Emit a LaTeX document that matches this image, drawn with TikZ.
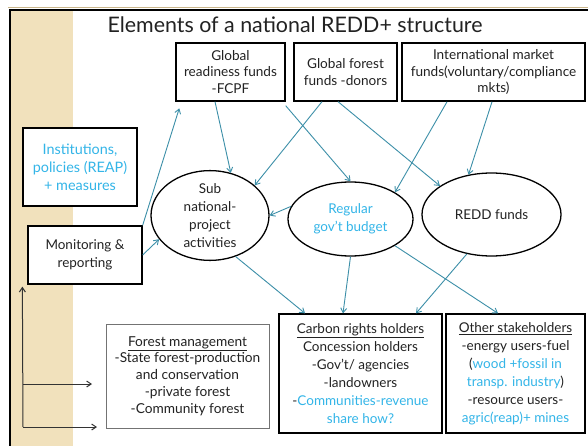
\documentclass[tikz,border=0pt]{standalone}
\usepackage{fontspec}
\setmainfont{Lato}
\usetikzlibrary{arrows.meta,shapes.geometric}
\definecolor{beige}{HTML}{F1E1BC}
\definecolor{tanline}{HTML}{C9B58A}
\definecolor{skyblue}{HTML}{33B5E8}
\definecolor{teal}{HTML}{3C8FA8}
\definecolor{ink}{HTML}{222222}
\begin{document}
\begin{tikzpicture}[x=1pt,y=-1pt,
  every node/.style={text=ink,align=center,inner sep=0pt},
  txt/.style={font=\fontsize{13.6}{16.5}\selectfont},
  bigtxt/.style={font=\fontsize{13.5}{17.8}\selectfont},
  box/.style={draw=black,fill=white,line width=1.3pt,rectangle},
  thinbox/.style={draw=black!55,fill=white,line width=0.8pt,rectangle},
  oval/.style={draw=black,fill=white,line width=1.3pt,ellipse},
  flow/.style={draw=teal,line width=0.9pt,-{Straight Barb[length=4.5pt,width=6pt]}},
  feed/.style={draw=black!80,line width=1pt,-{Straight Barb[length=4.5pt,width=6pt]}}]
\useasboundingbox (0,0) rectangle (588,446);
% slide background and frame
\fill[white] (0,0) rectangle (588,446);
\fill[beige] (10,10) rectangle (73,446);
\draw[tanline,line width=0.8pt] (8,7.5) -- (588,7.5);
\draw[black,line width=2pt] (9,10.5) -- (588,10.5);
\draw[black,line width=2.4pt] (10,10) -- (10,446);
% title
\node[font=\fontsize{21.4}{24}\selectfont,anchor=base] (title) at (295,33) {Elements of a national REDD+ structure};
% funding sources
\node[box,txt,minimum width=109,minimum height=58] (grf) at (230.5,72) {Global\\readiness funds\\-FCPF};
\node[box,txt,minimum width=103,minimum height=58] (gff) at (345.5,72) {Global forest\\funds -donors};
\node[box,txt,line width=1.6pt,minimum width=183,minimum height=58] (imf) at (493.5,72) {International market\\funds(voluntary/compliance\\mkts)};
% left column
\node[box,font=\fontsize{14.4}{17.8}\selectfont,minimum width=114,minimum height=78,text=skyblue] (inst) at (80,167) {Institutions,\\policies (REAP)\\+ measures};
\node[box,bigtxt,minimum width=114,minimum height=58] (mon) at (85,255) {Monitoring \&\\reporting};
% channels
\node[oval,bigtxt,minimum width=118,minimum height=79] (sub) at (210,215.5) {Sub\\national-\\project\\activities};
\node[oval,bigtxt,minimum width=125,minimum height=74,text=skyblue] (reg) at (350.5,219) {Regular\\gov't budget};
\node[oval,bigtxt,minimum width=139,minimum height=83] (redd) at (491.5,214.5) {REDD funds};
% recipients
\node[thinbox,font=\fontsize{13.7}{16.8}\selectfont,minimum width=163,minimum height=104] (fm) at (187.5,376)
  {\underline{Forest management}\\-State forest-production\\and conservation\\-private forest\\-Community forest};
\node[box,font=\fontsize{13.5}{18}\selectfont,minimum width=163,minimum height=119] (crh) at (360.5,373.5)
  {\underline{Carbon rights holders}\\Concession holders\\-Gov't/ agencies\\-landowners\\-\textcolor{skyblue}{Communities-revenue}\\\textcolor{skyblue}{share how?}};
\node[box,font=\fontsize{13.5}{18}\selectfont,minimum width=139,minimum height=119] (oth) at (515.5,373.5)
  {\underline{Other stakeholders}\\-energy users-fuel\\(\textcolor{skyblue}{wood +fossil in}\\\textcolor{skyblue}{transp. industry})\\-resource users-\\\textcolor{skyblue}{agric(reap)+ mines}};
% money flows
\draw[flow] ([xshift=-15.5]grf.south) -- (sub.64);
\draw[flow] ([xshift=-23.5]gff.south) -- (sub.34);
\draw[flow] ([yshift=-4]grf.south east) -- (reg.north);
\draw[flow] ([xshift=-7.5]gff.south) -- (redd.151);
\draw[flow] ([xshift=-46.5]imf.south) -- (reg.31);
\draw[flow] ([xshift=-1.5]imf.south) -- (redd.120);
\draw[flow] (reg.168) -- (sub.east);
\draw[flow,shorten >=7pt] (mon.north east) -- ([xshift=6]grf.south west);
\draw[flow] (mon.east) -- (sub.205);
\draw[flow] (sub.-58) -- ([xshift=-55.5]crh.north);
\draw[flow] (reg.south) -- ([xshift=-17.5]crh.north);
\draw[flow] (redd.238) -- ([xshift=55.5]crh.north);
\draw[flow] (reg.-31) -- ([xshift=-17.5]oth.north);
% feedback lines on the left
\coordinate (corner) at (23,427);
\coordinate (midtap) at (23,384);
\coordinate (fmtop) at (92,384);
\coordinate (fmbot) at (97,427);
\draw[feed] (corner) -- ([xshift=-5,yshift=-2]mon.south west);
\draw[feed] (midtap) -- (fmtop);
\draw[feed] (corner) -- (fmbot);
\end{tikzpicture}
\end{document}
